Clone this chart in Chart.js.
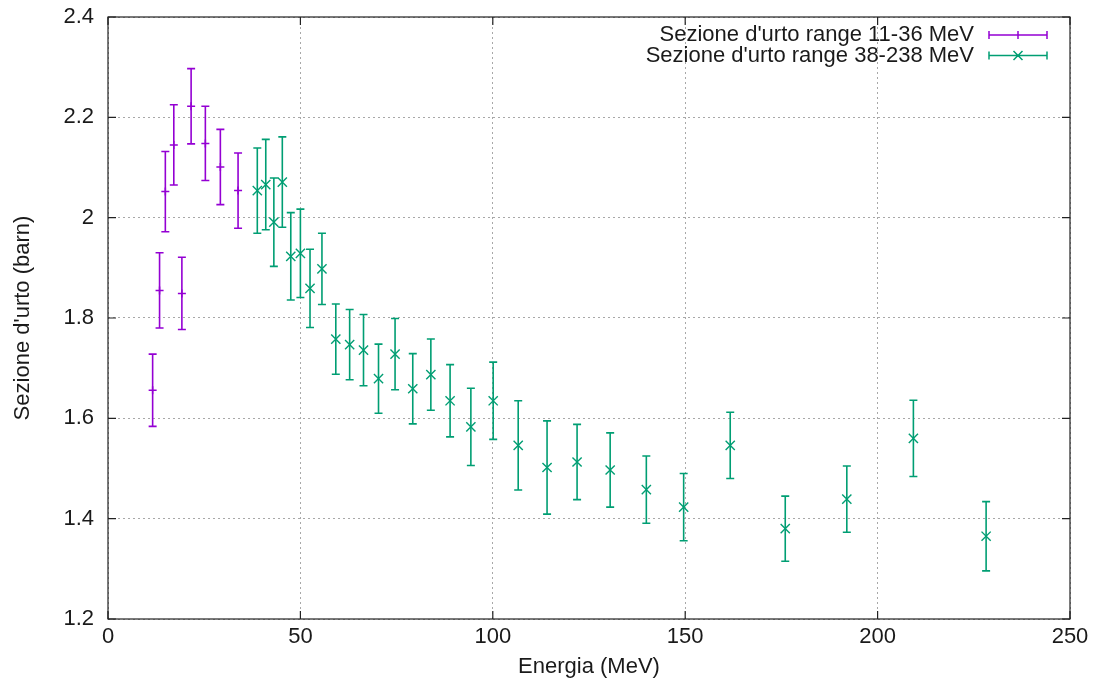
<!DOCTYPE html>
<html>
<head>
<meta charset="utf-8">
<script src="https://cdn.jsdelivr.net/npm/chart.js@4/dist/chart.umd.min.js"></script>
<style>
  html, body { margin: 0; padding: 0; background: #ffffff; }
  #wrap { width: 1096px; height: 681px; }
</style>
</head>
<body>
<div id="wrap"><canvas id="c" width="1096" height="681"></canvas></div>
<script>
// ---- Data ----
const seriesNames = ["Sezione d'urto range 11-36 MeV", "Sezione d'urto range 38-238 MeV"];

const lowEnergy = [11.6, 13.4, 14.9, 17.1, 19.2, 21.6, 25.3, 29.2, 33.8];
const lowSigma  = [1.656, 1.855, 2.052, 2.145, 1.849, 2.222, 2.148, 2.101, 2.054];
const lowErr    = [0.072, 0.075, 0.080, 0.080, 0.072, 0.075, 0.074, 0.075, 0.075];

const highEnergy = [38.8, 41.0, 43.1, 45.3, 47.5, 50.0, 52.5, 55.6, 59.2, 62.8, 66.4, 70.3, 74.6, 79.2, 83.9,
                    88.9, 94.3, 100.1, 106.6, 114.1, 121.9, 130.5, 139.9, 149.6, 161.7, 176.0, 192.0, 209.3, 228.2];
const highSigma  = [2.054, 2.066, 1.991, 2.071, 1.923, 1.929, 1.859, 1.898, 1.758, 1.747, 1.736, 1.679, 1.728, 1.659, 1.687,
                    1.635, 1.583, 1.635, 1.546, 1.502, 1.513, 1.497, 1.458, 1.423, 1.546, 1.380, 1.439, 1.560, 1.365];
const highErr    = [0.085, 0.090, 0.088, 0.090, 0.087, 0.088, 0.078, 0.071, 0.070, 0.070, 0.071, 0.069, 0.071, 0.070, 0.071,
                    0.072, 0.077, 0.077, 0.089, 0.093, 0.075, 0.074, 0.067, 0.067, 0.066, 0.065, 0.066, 0.076, 0.069];

const xTicks = [0, 50, 100, 150, 200, 250];
const xTickLabels = ['0', '50', '100', '150', '200', '250'];
const yTicks = [1.2, 1.4, 1.6, 1.8, 2.0, 2.2, 2.4];
const yTickLabels = ['1.2', '1.4', '1.6', '1.8', '2', '2.2', '2.4'];

const xTitle = 'Energia (MeV)';
const yTitle = "Sezione d'urto (barn)";

// ---- Styling ----
const COL_LOW = '#9400d3';
const COL_HIGH = '#009e73';
const FONT = "'Liberation Sans', Arial, sans-serif";
const FS = 22;

Chart.defaults.font.family = FONT;
Chart.defaults.font.size = FS;
Chart.defaults.color = '#1a1a1a';

const errs = [lowErr, highErr];

const errorBarPlugin = {
  id: 'errorBars',
  beforeDatasetsDraw(chart) {
    const {ctx, scales: {x, y}} = chart;
    ctx.save();
    chart.data.datasets.forEach((ds, di) => {
      ctx.strokeStyle = ds.borderColor;
      ctx.lineWidth = 1.6;
      ds.data.forEach((p, i) => {
        const e = errs[di][i];
        const px = x.getPixelForValue(p.x);
        const yt = y.getPixelForValue(p.y + e);
        const yb = y.getPixelForValue(p.y - e);
        ctx.beginPath();
        ctx.moveTo(px, yt); ctx.lineTo(px, yb);
        ctx.moveTo(px - 4, yt); ctx.lineTo(px + 4, yt);
        ctx.moveTo(px - 4, yb); ctx.lineTo(px + 4, yb);
        ctx.stroke();
      });
    });
    ctx.restore();
  },
  afterDraw(chart) {
    const {ctx, chartArea: a, scales: {x, y}} = chart;
    ctx.save();
    // border box
    ctx.strokeStyle = '#222';
    ctx.lineWidth = 1.2;
    ctx.strokeRect(a.left, a.top, a.right - a.left, a.bottom - a.top);
    // inward ticks, mirrored
    const tl = 8;
    ctx.beginPath();
    xTicks.forEach(v => {
      const px = x.getPixelForValue(v);
      ctx.moveTo(px, a.bottom); ctx.lineTo(px, a.bottom - tl);
      ctx.moveTo(px, a.top); ctx.lineTo(px, a.top + tl);
    });
    yTicks.forEach(v => {
      const py = y.getPixelForValue(v);
      ctx.moveTo(a.left, py); ctx.lineTo(a.left + tl, py);
      ctx.moveTo(a.right, py); ctx.lineTo(a.right - tl, py);
    });
    ctx.stroke();

    // legend (gnuplot style: right aligned text, sample on the right)
    const rows = [
      {text: seriesNames[0], color: COL_LOW, mark: 'plus', y: 35},
      {text: seriesNames[1], color: COL_HIGH, mark: 'x', y: 55.5}
    ];
    const textRight = 974, s0 = 989, s1 = 1047, sm = 1018;
    ctx.font = FS + 'px ' + FONT;
    ctx.textAlign = 'right';
    ctx.textBaseline = 'middle';
    rows.forEach(r => {
      ctx.fillStyle = '#1a1a1a';
      ctx.fillText(r.text, textRight, r.y);
      ctx.strokeStyle = r.color;
      ctx.lineWidth = 1.5;
      ctx.beginPath();
      ctx.moveTo(s0, r.y); ctx.lineTo(s1, r.y);
      ctx.moveTo(s0, r.y - 4); ctx.lineTo(s0, r.y + 4);
      ctx.moveTo(s1, r.y - 4); ctx.lineTo(s1, r.y + 4);
      if (r.mark === 'plus') {
        ctx.moveTo(sm, r.y - 4); ctx.lineTo(sm, r.y + 4);
      } else {
        ctx.moveTo(sm - 4.5, r.y - 4.5); ctx.lineTo(sm + 4.5, r.y + 4.5);
        ctx.moveTo(sm - 4.5, r.y + 4.5); ctx.lineTo(sm + 4.5, r.y - 4.5);
      }
      ctx.stroke();
    });
    ctx.restore();
  }
};

const gridCommon = {
  color: '#a8a8a8',
  lineWidth: 1,
  drawTicks: false
};

new Chart(document.getElementById('c'), {
  type: 'scatter',
  data: {
    datasets: [
      {
        label: seriesNames[0],
        data: lowEnergy.map((e, i) => ({x: e, y: lowSigma[i]})),
        borderColor: COL_LOW,
        backgroundColor: COL_LOW,
        pointStyle: 'cross',
        pointRadius: 4,
        pointBorderWidth: 1.5,
        showLine: false
      },
      {
        label: seriesNames[1],
        data: highEnergy.map((e, i) => ({x: e, y: highSigma[i]})),
        borderColor: COL_HIGH,
        backgroundColor: COL_HIGH,
        pointStyle: 'crossRot',
        pointRadius: 6.5,
        pointBorderWidth: 1.4,
        showLine: false
      }
    ]
  },
  options: {
    responsive: false,
    animation: false,
    layout: { padding: { top: 17, right: 26, left: 0, bottom: 0 } },
    plugins: { legend: { display: false }, tooltip: { enabled: false } },
    scales: {
      x: {
        type: 'linear',
        min: 0, max: 250,
        afterBuildTicks: s => { s.ticks = xTicks.map(v => ({value: v})); },
        afterFit: s => { s.height = 62; s.paddingLeft = 0; s.paddingRight = 0; },
        ticks: { padding: 5, callback: (v, i) => xTickLabels[i], maxRotation: 0, font: {size: FS} },
        grid: gridCommon,
        border: { display: false, dash: [2, 3] },
        title: { display: true, text: xTitle, font: {size: FS}, padding: {top: 0, bottom: 1} }
      },
      y: {
        type: 'linear',
        min: 1.2, max: 2.4,
        afterBuildTicks: s => { s.ticks = yTicks.map(v => ({value: v})); },
        afterFit: s => { s.width = 108; s.paddingTop = 0; s.paddingBottom = 0; },
        ticks: { padding: 14, callback: (v, i) => yTickLabels[i], font: {size: FS} },
        grid: gridCommon,
        border: { display: false, dash: [2, 3] },
        title: { display: true, text: yTitle, font: {size: FS}, padding: {top: 10, bottom: 0} }
      }
    }
  },
  plugins: [errorBarPlugin]
});
</script>
</body>
</html>
